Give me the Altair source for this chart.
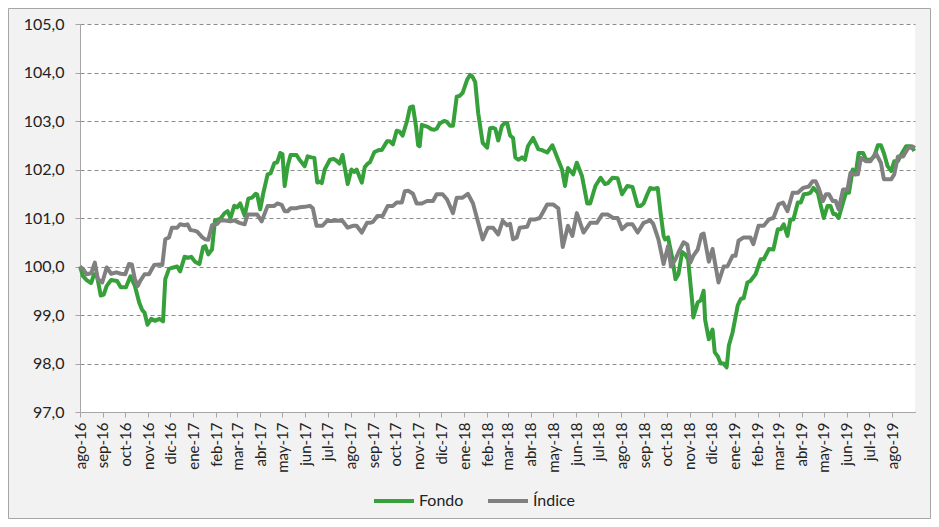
import altair as alt
import pandas as pd

START = pd.Timestamp("2016-08-01")

# (days since 1-Aug-2016, value)
fondo = [(0,100.0),(4,99.8),(9,99.72),(15,99.66),(19,99.84),(23,99.8),(28,99.4),(32,99.42),(36,99.6),(42,99.72),
(50,99.7),(55,99.57),(62,99.57),(68,99.8),(74,99.6),(80,99.25),(84,99.1),(87,99.05),(91,98.8),(96,98.92),
(101,98.88),(107,98.92),(112,98.87),(115,99.74),(120,99.95),(126,99.98),(131,100.0),(135,99.9),(141,100.2),(146,100.18),
(150,100.2),(155,100.1),(161,100.05),(166,100.4),(169,100.42),(173,100.25),(178,100.35),(182,100.95),(189,100.98),(195,101.1),
(199,101.14),(203,101.0),(208,101.25),(212,101.22),(216,101.3),(222,101.05),(227,101.4),(232,101.42),(237,101.5),(239,101.48),
(243,101.18),(247,101.5),(253,101.9),(257,101.92),(262,102.13),(266,102.15),(270,102.34),(273,102.32),(276,101.66),(280,102.07),
(284,102.3),(288,102.3),(292,102.3),(296,102.2),(303,102.07),(307,102.27),(312,102.25),(316,102.24),(320,101.73),(323,101.75),
(326,101.72),(330,102.0),(337,102.2),(342,102.22),(346,102.18),(350,102.12),(354,102.3),(361,101.7),(366,102.0),(370,101.95),
(373,102.0),(380,101.73),(384,102.05),(388,102.12),(391,102.15),(397,102.36),(403,102.4),(407,102.4),(414,102.58),(418,102.58),
(422,102.52),(427,102.8),(431,102.78),(435,102.7),(441,103.0),(445,103.28),(449,103.3),(453,102.9),(456,102.5),(458,102.48),
(461,102.92),(465,102.9),(469,102.88),(474,102.83),(478,102.82),(481,102.84),(485,102.95),(491,103.0),(495,102.98),(499,102.9),
(503,102.9),(508,103.5),(512,103.52),(516,103.58),(522,103.85),(526,103.95),(529,103.92),(533,103.8),(537,103.16),(543,102.55),
(549,102.45),(553,102.85),(557,102.86),(560,102.84),(564,102.6),(569,102.9),(573,102.96),(576,102.96),(580,102.7),(584,102.65),
(587,102.25),(591,102.2),(596,102.25),(600,102.2),(604,102.48),(611,102.65),(618,102.42),(623,102.4),(630,102.35),(637,102.5),
(643,102.27),(650,102.0),(654,101.66),(658,102.03),(665,101.9),(670,102.14),(677,101.86),(684,101.3),(688,101.3),(695,101.66),
(702,101.83),(708,101.7),(712,101.72),(718,101.83),(725,101.82),(731,101.49),(738,101.66),(745,101.64),(752,101.25),(756,101.25),
(760,101.3),(765,101.49),(769,101.62),(773,101.6),(779,101.62),(783,101.1),(787,100.63),(789,100.56),(793,100.6),(799,100.15),
(803,99.74),(807,99.84),(812,100.3),(816,100.25),(820,100.15),(826,99.2),(827,98.95),(833,99.26),(837,99.3),(841,99.5),
(843,98.9),(848,98.5),(853,98.7),(856,98.23),(860,98.15),(864,98.0),(868,98.0),(872,97.92),(875,98.37),(880,98.64),
(887,99.2),(891,99.33),(895,99.35),(900,99.67),(904,99.7),(911,99.84),(918,100.15),(922,100.15),(929,100.36),(935,100.35),
(941,100.77),(945,100.77),(949,100.87),(954,100.63),(958,100.97),(962,100.97),(968,101.32),(972,101.32),(976,101.49),(981,101.5),
(985,101.52),(989,101.62),(995,101.52),(999,101.25),(1003,101.0),(1008,101.25),(1012,101.25),(1016,101.08),(1019,101.08),(1023,101.0),
(1029,101.32),(1033,101.52),(1037,101.52),(1042,102.0),(1046,101.9),(1050,102.34),(1056,102.34),(1060,102.2),(1066,102.2),(1071,102.27),
(1076,102.5),(1080,102.5),(1084,102.34),(1089,102.07),(1094,101.97),(1098,102.17),(1103,102.17),(1107,102.3),(1114,102.48),(1121,102.48),
(1125,102.38)]

indice = [(0,100.0),(4,99.95),(9,99.84),(15,99.86),(20,100.08),(24,99.74),(30,99.67),(36,99.98),(42,99.85),(49,99.88),
(55,99.85),(61,99.84),(66,100.05),(70,100.04),(74,99.74),(78,99.6),(81,99.7),(87,99.84),(93,99.84),(100,100.03),
(107,100.04),(111,100.03),(115,100.56),(120,100.6),(124,100.8),(131,100.8),(135,100.87),(141,100.85),(145,100.87),(149,100.75),
(154,100.74),(158,100.72),(165,100.6),(169,100.56),(173,100.55),(178,100.85),(185,100.88),(189,100.95),(196,100.95),(203,100.93),
(208,100.95),(215,100.9),(222,100.87),(226,101.07),(232,101.07),(239,101.07),(245,100.93),(253,101.25),(258,101.25),(262,101.25),
(266,101.3),(272,101.27),(276,101.14),(280,101.14),(284,101.2),(291,101.2),(296,101.22),(303,101.23),(310,101.25),(314,101.2),
(319,100.84),(323,100.84),(327,100.84),(333,100.94),(339,100.94),(346,100.95),(354,100.94),(361,100.8),(368,100.84),(373,100.84),
(380,100.7),(387,100.9),(391,100.9),(395,100.92),(401,101.04),(408,101.04),(415,101.25),(422,101.25),(427,101.32),(434,101.32),
(438,101.55),(443,101.56),(449,101.5),(454,101.3),(461,101.3),(468,101.35),(476,101.35),(481,101.49),(489,101.49),(495,101.38),
(503,101.1),(508,101.42),(516,101.42),(523,101.5),(530,101.3),(537,100.9),(543,100.56),(550,100.8),(557,100.8),(564,100.66),
(570,100.94),(576,100.85),(580,100.88),(584,100.56),(589,100.6),(593,100.8),(603,100.82),(607,100.97),(614,100.97),(620,101.0),
(630,101.28),(638,101.28),(645,101.2),(651,100.4),(658,100.84),(664,100.63),(670,101.1),(679,100.7),(688,100.9),(697,100.9),
(704,101.07),(712,101.07),(719,101.0),(725,101.0),(731,100.77),(738,100.87),(745,100.87),(752,100.7),(760,100.9),(769,100.95),
(773,100.88),(780,100.56),(787,100.05),(793,100.42),(797,100.0),(803,100.15),(807,100.29),(814,100.5),(819,100.45),(823,100.08),
(827,100.22),(833,100.35),(838,100.66),(841,100.68),(848,100.1),(853,100.36),(861,99.67),(868,100.0),(873,100.0),(880,100.22),
(884,100.22),(888,100.53),(895,100.6),(904,100.6),(908,100.46),(915,100.84),(922,100.84),(929,100.97),(935,101.0),(942,101.28),
(948,101.32),(954,101.14),(961,101.52),(968,101.52),(975,101.62),(983,101.65),(988,101.76),(992,101.76),(996,101.62),(1002,101.35),
(1006,101.49),(1010,101.49),(1015,101.35),(1019,101.35),(1023,101.18),(1029,101.59),(1035,101.59),(1039,101.93),(1044,101.9),(1049,101.9),
(1053,102.24),(1060,102.17),(1066,102.17),(1073,102.34),(1080,102.14),(1084,101.8),(1089,101.8),(1094,101.8),(1098,101.9),(1103,102.27),
(1110,102.27),(1117,102.45),(1123,102.45),(1125,102.5)]

series_names = ["Fondo", "Índice"]
series_colors = ["#36a03a", "#808080"]
meses = ["ene", "feb", "mar", "abr", "may", "jun", "jul", "ago", "sep", "oct", "nov", "dic"]
y_ticks = [97, 98, 99, 100, 101, 102, 103, 104, 105]

def frame(points, name):
    return pd.DataFrame({
        "fecha": [START + pd.Timedelta(days=d) for d, _ in points],
        "valor": [v for _, v in points],
        "serie": name,
    })

df_f = frame(fondo, "Fondo")
df_i = frame(indice, "Índice")

month_values = []
y, m = 2016, 8
while (y, m) <= (2019, 8):
    month_values.append(alt.DateTime(year=y, month=m, date=1))
    m += 1
    if m > 12:
        m = 1
        y += 1

FONT = "Lato"
mes_arr = "[" + ",".join("'%s'" % s for s in meses) + "]"

x_enc = alt.X(
    "fecha:T",
    scale=alt.Scale(domain=[alt.DateTime(year=2016, month=8, date=1),
                            alt.DateTime(year=2019, month=9, date=1)]),
    axis=alt.Axis(
        values=month_values,
        labelExpr=mes_arr + "[month(datum.value)] + '-' + timeFormat(datum.value, '%y')",
        labelAngle=-90, labelAlign="right", labelBaseline="middle",
        labelPadding=5, labelFontSize=15, labelFont=FONT, labelColor="#222222",
        grid=False, domainColor="#a6a6a6", tickColor="#a6a6a6", tickSize=5,
        title=None, labelOverlap=False,
    ),
)
y_enc = alt.Y(
    "valor:Q",
    scale=alt.Scale(domain=[97, 105], nice=False, zero=False),
    axis=alt.Axis(
        values=y_ticks,
        labelExpr="replace(format(datum.value, '.1f'), '.', ',')",
        labelFontSize=16, labelFont=FONT, labelColor="#222222", labelPadding=11,
        grid=True, gridDash=[4, 3], gridColor="#8c8c8c", gridWidth=1,
        domainColor="#a6a6a6", tickColor="#a6a6a6", tickSize=5, title=None,
    ),
)
color_enc = alt.Color(
    "serie:N",
    scale=alt.Scale(domain=series_names, range=series_colors),
    legend=alt.Legend(
        title=None, orient="none", legendX=292, legendY=455, direction="horizontal",
        symbolType="stroke", symbolSize=1600, symbolStrokeWidth=4,
        labelFontSize=16, labelFont=FONT, labelColor="#222222", labelOffset=3,
        columnPadding=16,
    ),
)

line_f = alt.Chart(df_f).mark_line(strokeWidth=4, strokeJoin="round").encode(
    x=x_enc, y=y_enc, color=color_enc)
line_i = alt.Chart(df_i).mark_line(strokeWidth=4, strokeJoin="round").encode(
    x=x_enc, y=y_enc, color=color_enc)

border = alt.Chart(pd.DataFrame({"k": [0]})).mark_rect(
    fill="transparent", stroke="#a6a6a6", strokeWidth=1
).encode(x=alt.value(-71.5), x2=alt.value(850.5), y=alt.value(-15.5), y2=alt.value(494.5))

chart = alt.layer(border, line_f, line_i).properties(
    width=835, height=388,
    autosize=alt.AutoSizeParams(type="none"),
    padding={"left": 72, "top": 16, "right": 16, "bottom": 107},
    background="#f2f2f2",
).configure_view(fill="white", stroke=None)

chart.save("out.html", embed_options={"renderer": "svg", "actions": False})
